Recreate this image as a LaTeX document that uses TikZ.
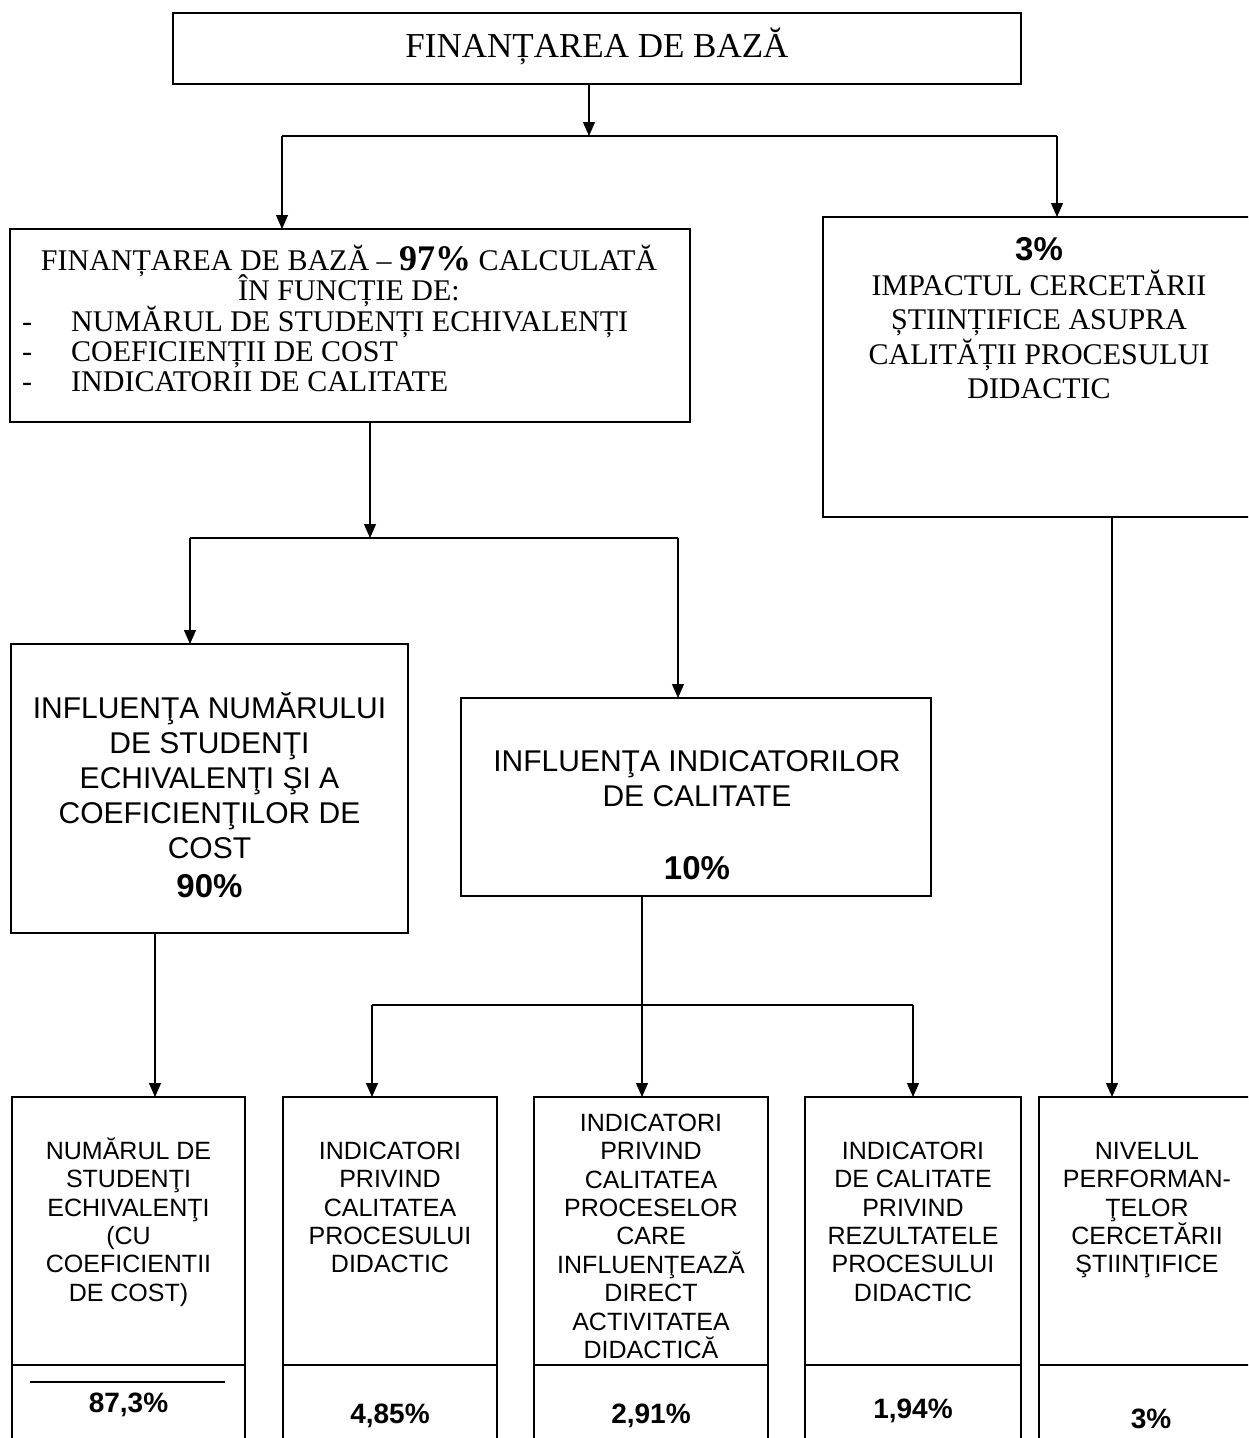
\documentclass[tikz,border=0pt]{standalone}
\usepackage{fontspec}
\setmainfont{Liberation Serif}
\newfontfamily\arialf{Liberation Sans}
\usetikzlibrary{arrows.meta}
\begin{document}
\begin{tikzpicture}[x=1pt,y=-1pt,
  box/.style={draw, line width=1.6pt, rectangle, inner sep=0pt, outer sep=0pt, anchor=north west},
  conn/.style={line width=1.2pt},
  arr/.style={conn, -{Triangle[length=14pt,width=12pt]}},
  ser/.style={inner sep=0pt, align=center, font=\fontsize{30}{34.5}\selectfont},
  serl/.style={inner sep=0pt, anchor=base west, font=\fontsize{30}{30}\selectfont},
  san/.style={inner sep=0pt, align=center, anchor=north, font=\arialf\fontsize{30}{35}\selectfont},
  sanb/.style={inner sep=0pt, align=center, anchor=north, font=\arialf\fontsize{25}{28.4}\selectfont},
  pct/.style={inner sep=0pt, anchor=base, font=\arialf\bfseries\fontsize{28}{30}\selectfont},
  pctb/.style={inner sep=0pt, anchor=base, font=\arialf\bfseries\fontsize{33}{35}\selectfont}
]
\clip (0,0) rectangle (1248,1438);
\fill[white] (0,0) rectangle (1248,1438);

% boxes
\node[box, minimum width=848pt, minimum height=71pt] (top) at (173,13) {};
\node[box, minimum width=680pt, minimum height=193pt] (b97) at (10,229) {};
\node[box, minimum width=432pt, minimum height=300pt] (r3) at (823,217) {};
\node[box, minimum width=397pt, minimum height=289pt] (inf1) at (11,644) {};
\node[box, minimum width=470pt, minimum height=198pt] (inf2) at (461,698) {};
\node[box, minimum width=233pt, minimum height=400pt] (c1) at (12,1097) {};
\node[box, minimum width=214pt, minimum height=400pt] (c2) at (283,1097) {};
\node[box, minimum width=234pt, minimum height=400pt] (c3) at (534,1097) {};
\node[box, minimum width=216pt, minimum height=400pt] (c4) at (805,1097) {};
\node[box, minimum width=216pt, minimum height=400pt] (c5) at (1039,1097) {};

% dividers in bottom boxes
\coordinate (dv) at (0,1365);
\foreach \b in {c1,c2,c3,c4,c5}
  \draw[line width=1.6pt] (\b.west |- dv) -- (\b.east |- dv);
\draw[line width=1.3pt] (30,1382) -- (225,1382);

% junctions
\coordinate (j0) at (589,136);
\coordinate (jL) at (282,136);
\coordinate (jR) at (1057,136);
\coordinate (j1) at (370,538);
\coordinate (j1L) at (190,538);
\coordinate (j1R) at (678,538);
\coordinate (j2) at (642,1005);
\coordinate (j2L) at (372,1005);
\coordinate (j2R) at (913,1005);
\coordinate (k1) at (155,0);
\coordinate (k5) at (1112,0);

\draw[arr] (top.south -| j0) -- (j0);
\draw[conn] (jL) -- (jR);
\draw[arr] (jL) -- (b97.north -| jL);
\draw[arr] (jR) -- (r3.north -| jR);

\draw[arr] (b97.south -| j1) -- (j1);
\draw[conn] (j1L) -- (j1R);
\draw[arr] (j1L) -- (inf1.north -| j1L);
\draw[arr] (j1R) -- (inf2.north -| j1R);

\draw[conn] (inf2.south -| j2) -- (j2);
\draw[conn] (j2L) -- (j2R);
\draw[arr] (j2L) -- (c2.north -| j2L);
\draw[arr] (j2) -- (c3.north -| j2);
\draw[arr] (j2R) -- (c4.north -| j2R);
\draw[arr] (inf1.south -| k1) -- (c1.north -| k1);
\draw[arr] (r3.south -| k5) -- (c5.north -| k5);

% texts
\node[inner sep=0pt, anchor=base, font=\fontsize{35}{40}\selectfont] (ttop) at (597,57) {FINANȚAREA DE BAZĂ};

\node[inner sep=0pt, anchor=base, font=\fontsize{30}{30}\selectfont] (l1) at (349,270)
  {FINANȚAREA DE BAZĂ – {\bfseries\fontsize{36}{36}\selectfont 97\%} CALCULATĂ};
\node[inner sep=0pt, anchor=base, font=\fontsize{30}{30}\selectfont] (l2) at (349,300) {ÎN FUNCȚIE DE:};
\node[serl] (d3) at (22,331) {-};
\node[serl] (d4) at (22,361) {-};
\node[serl] (d5) at (22,391) {-};
\node[serl] (l3) at (71,331) {NUMĂRUL DE STUDENȚI ECHIVALENȚI};
\node[serl] (l4) at (71,361) {COEFICIENȚII DE COST};
\node[serl] (l5) at (71,391) {INDICATORII DE CALITATE};

\node[pctb] (p3a) at (1039,260) {3\%};
\node[ser, anchor=north] (tr3) at (1039,266)
  {\rule{0pt}{29pt}IMPACTUL CERCETĂRII\\ȘTIINȚIFICE ASUPRA\\CALITĂȚII PROCESULUI\\DIDACTIC};

\node[san] (ti1) at (209.5,689)
  {\rule{0pt}{29pt}INFLUENŢA NUMĂRULUI\\DE STUDENŢI\\ECHIVALENŢI ŞI A\\COEFICIENŢILOR DE\\COST};
\node[pctb] (p90) at (209.5,897) {90\%};

\node[san] (ti2) at (697,742)
  {\rule{0pt}{29pt}INFLUENŢA INDICATORILOR\\DE CALITATE};
\node[pctb] (p10) at (697,879) {10\%};

\node[sanb] (tc1) at (128.5,1135)
  {\rule{0pt}{24pt}NUMĂRUL DE\\STUDENŢI\\ECHIVALENŢI\\(CU\\COEFICIENTII\\DE COST)};
\node[sanb] (tc2) at (390,1135)
  {\rule{0pt}{24pt}INDICATORI\\PRIVIND\\CALITATEA\\PROCESULUI\\DIDACTIC};
\node[sanb] (tc3) at (651,1107)
  {\rule{0pt}{24pt}INDICATORI\\PRIVIND\\CALITATEA\\PROCESELOR\\CARE\\INFLUENŢEAZĂ\\DIRECT\\ACTIVITATEA\\DIDACTICĂ};
\node[sanb] (tc4) at (913,1135)
  {\rule{0pt}{24pt}INDICATORI\\DE CALITATE\\PRIVIND\\REZULTATELE\\PROCESULUI\\DIDACTIC};
\node[sanb] (tc5) at (1147,1135)
  {\rule{0pt}{24pt}NIVELUL\\PERFORMAN-\\ŢELOR\\CERCETĂRII\\ŞTIINŢIFICE};

\node[pct] (q1) at (128.5,1412) {87,3\%};
\node[pct] (q2) at (390,1423) {4,85\%};
\node[pct] (q3) at (651,1423) {2,91\%};
\node[pct] (q4) at (913,1418) {1,94\%};
\node[pct] (q5) at (1151,1428) {3\%};
\end{tikzpicture}
\end{document}
